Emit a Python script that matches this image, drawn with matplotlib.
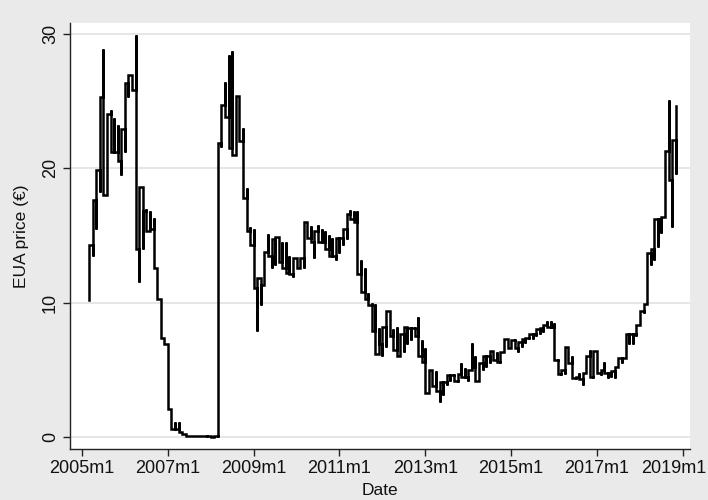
import matplotlib
matplotlib.use("Agg")
import matplotlib.pyplot as plt
import matplotlib.transforms as mtransforms
import numpy as np

plt.rcParams['font.family'] = ['Liberation Sans', 'DejaVu Sans']

# ---- data: monthly low / high of EUA price (EUR), starting 2005m3 ----
start_year, start_month = 2005, 3
price_low = [
    # 2005 m3..m12
    10.2, 13.5, 15.5, 18.2, 18.0, 20.0, 21.2, 21.2, 20.5, 19.5,
    # 2006
    21.2, 25.3, 25.8, 14.0, 11.5, 14.0, 15.3, 15.5, 12.6, 10.3, 7.4, 6.9,
    # 2007
    2.1, 0.6, 0.6, 0.4, 0.2, 0.1, 0.05, 0.05, 0.05, 0.04, 0.04, 0.03,
    # 2008
    0.03, 0.02, 0.02, 21.6, 23.8, 21.5, 21.0, 21.0, 22.0, 17.8, 15.3, 14.3,
    # 2009
    11.1, 7.9, 9.8, 11.3, 13.5, 12.6, 12.8, 13.0, 12.6, 12.2, 12.1, 11.9,
    # 2010
    12.6, 12.6, 12.6, 14.8, 14.5, 13.3, 14.5, 14.5, 14.0, 13.5, 13.5, 13.2,
    # 2011
    13.7, 14.3, 14.7, 16.2, 16.0, 12.1, 10.8, 10.3, 9.8, 7.9, 6.2, 6.9,
    # 2012
    6.0, 6.7, 7.5, 6.5, 6.0, 6.1, 6.3, 6.9, 7.2, 7.5, 6.0, 5.6,
    # 2013
    3.3, 3.5, 3.8, 3.4, 2.6, 3.1, 3.9, 4.2, 4.2, 4.1, 4.5, 4.5,
    # 2014
    4.2, 5.2, 4.2, 4.7, 5.0, 5.2, 5.5, 5.7, 5.6, 5.5, 6.4, 6.6,
    # 2015
    6.6, 6.6, 6.3, 6.7, 7.0, 7.3, 7.3, 7.5, 7.7, 7.8, 8.2, 8.2,
    # 2016
    5.7, 4.7, 4.6, 4.7, 5.5, 4.4, 4.3, 4.3, 3.9, 4.8, 4.5, 4.4,
    # 2017
    4.8, 4.6, 4.8, 4.4, 4.5, 4.4, 5.4, 5.5, 6.7, 6.9, 6.9, 7.5,
    # 2018 m1..m11
    8.4, 9.2, 9.9, 12.8, 13.2, 14.1, 15.2, 16.4, 19.1, 15.6, 19.6,
]
price_high = [
    # 2005 m3..m12
    14.3, 17.6, 19.9, 25.3, 28.9, 24.0, 24.3, 23.7, 23.2, 22.9,
    # 2006
    26.3, 26.9, 26.8, 29.9, 18.6, 16.8, 17.0, 16.8, 16.3, 12.6, 10.3, 7.4,
    # 2007
    6.9, 2.1, 1.1, 1.1, 0.4, 0.2, 0.1, 0.1, 0.08, 0.07, 0.06, 0.05,
    # 2008
    0.05, 0.04, 21.9, 24.7, 26.4, 28.4, 28.7, 25.4, 25.4, 23.0, 18.5, 15.6,
    # 2009
    15.5, 11.8, 11.3, 13.8, 15.1, 14.7, 14.9, 14.9, 14.5, 14.5, 13.5, 13.3,
    # 2010
    13.3, 13.3, 16.0, 16.0, 15.7, 15.3, 15.8, 15.5, 15.3, 15.0, 14.8, 14.8,
    # 2011
    14.8, 15.5, 16.6, 16.9, 16.8, 16.8, 13.2, 12.6, 10.7, 10.0, 9.9, 8.1,
    # 2012
    8.2, 9.4, 8.7, 8.0, 8.2, 7.7, 8.2, 8.1, 8.1, 8.2, 8.9, 7.2,
    # 2013
    6.6, 5.0, 5.0, 4.9, 4.1, 4.1, 4.6, 4.6, 4.7, 4.7, 5.5, 5.1,
    # 2014
    5.0, 7.0, 6.0, 5.5, 6.0, 6.0, 6.4, 6.4, 6.3, 6.3, 7.3, 7.3,
    # 2015
    7.2, 7.3, 7.1, 7.3, 7.4, 7.7, 7.7, 8.0, 8.1, 8.3, 8.6, 8.6,
    # 2016
    8.5, 5.8, 5.0, 6.7, 6.3, 6.0, 4.5, 4.8, 4.8, 6.0, 6.5, 6.4,
    # 2017
    6.2, 5.0, 5.6, 4.8, 4.9, 5.2, 5.9, 5.9, 7.7, 7.7, 7.7, 8.3,
    # 2018 m1..m11
    9.4, 9.9, 13.7, 14.0, 16.2, 16.2, 16.4, 21.3, 25.1, 22.1, 24.6,
]
y_ticks = [0, 10, 20, 30]
x_tick_labels = ["2005m1", "2007m1", "2009m1", "2011m1", "2013m1",
                 "2015m1", "2017m1", "2019m1"]
y_label = "EUA price (€)"
x_label = "Date"

# ---- build monthly step path (month index from 2005m1) ----
lo = np.array(price_low)
hi = np.array(price_high)
n = len(lo)
month0 = (start_year - 2005) * 12 + (start_month - 1)
months = month0 + np.arange(n)
mid = (lo + hi) / 2.0
xs, ys = [], []
for i in range(n):
    nxt = mid[i + 1] if i + 1 < n else hi[i]
    if abs(hi[i] - nxt) <= abs(lo[i] - nxt):
        first, last = lo[i], hi[i]
    else:
        first, last = hi[i], lo[i]
    xs += [months[i], months[i]]
    ys += [first, last]

tick_pos = [(int(s[:4]) - 2005) * 12 + int(s[5:]) - 1 for s in x_tick_labels]

# ---- figure ----
W, H = 708, 500
fig = plt.figure(figsize=(W / 100, H / 100), dpi=100, facecolor="#eaeaea")
ax = fig.add_axes([70 / W, 51 / H, 620 / W, 426 / H])
ax.set_facecolor("white")

for yv in y_ticks:
    ax.axhline(yv, color="#e4e4e4", lw=1.3, zorder=1)

ax.plot(xs, ys, drawstyle="steps-post", color="black", lw=1.8,
        solid_joinstyle="miter", zorder=3)

ax.set_xlim(-3.35, 170.0)
ax.set_ylim(-0.89, 30.8)

for s in ["top", "right"]:
    ax.spines[s].set_visible(False)
for s in ["left", "bottom"]:
    ax.spines[s].set_color("#222222")
    ax.spines[s].set_linewidth(1.0)

ax.set_yticks(y_ticks)
ax.set_yticklabels([str(v) for v in y_ticks], rotation=90, va="center",
                   fontsize=13, color="#111111")
ax.set_xticks(tick_pos)
ax.set_xticklabels(x_tick_labels, fontsize=13, color="#111111")
ax.tick_params(axis="both", length=5, width=1, color="#222222", pad=3)

# keep the last tick label inside the figure
last_lbl = ax.get_xticklabels()[-1]
last_lbl.set_transform(last_lbl.get_transform() +
                       mtransforms.ScaledTranslation(-9 / 100, 0, fig.dpi_scale_trans))

ax.set_ylabel(y_label, fontsize=12.5, color="#111111", labelpad=9)
ax.set_xlabel(x_label, fontsize=12.5, color="#111111", labelpad=4)

fig.savefig("out.png", dpi=100, facecolor=fig.get_facecolor())
